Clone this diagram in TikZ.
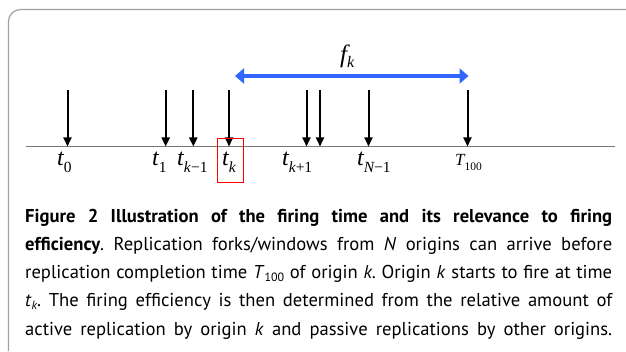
\documentclass[tikz,border=0pt]{standalone}
\usepackage{fontspec}
\setmainfont{PT Sans}
\newfontfamily\tnr{Liberation Serif}
\usetikzlibrary{arrows.meta}
\definecolor{axisgray}{RGB}{120,120,120}
\definecolor{framegray}{RGB}{160,160,160}
\definecolor{fkblue}{RGB}{51,102,255}
\definecolor{boxred}{RGB}{235,40,40}
\newcommand{\tlab}[2]{{\tnr\fontsize{24}{24}\selectfont\itshape #1}\raisebox{-7pt}{\tnr\fontsize{15.5}{15.5}\selectfont #2}}
\newcommand{\capline}[1]{\makebox[587pt][s]{#1}}
\frenchspacing
\tikzset{
  fire/.style={draw=black, line width=2pt, -{Triangle[length=9pt,width=8pt]}},
  axisline/.style={draw=axisgray, line width=1.8pt},
  framel/.style={draw=framegray, line width=1.2pt, rounded corners=12pt},
  tlabel/.style={anchor=base west, inner sep=0pt},
  capnode/.style={anchor=base west, inner sep=0pt, font=\fontsize{18.6}{28}\selectfont},
  span/.style={draw=fkblue, line width=4pt, {Triangle[length=9pt,width=15pt]}-{Triangle[length=9pt,width=15pt]}}
}
\begin{document}
\begin{tikzpicture}[x=1pt,y=-1pt]
\useasboundingbox (0,0) rectangle (626,352);
% frame
\coordinate (fr1) at (626,9.5);
\coordinate (fr2) at (8.5,9.5);
\coordinate (fr3) at (8.5,351);
\draw[framel] (fr1) -- (fr2) -- (fr3);
% axis
\coordinate (axL) at (26,146.5);
\coordinate (axR) at (615,146.5);
\draw[axisline] (axL) -- (axR);
% firing arrows
\foreach \n/\x in {a0/67.5,a1/165.7,a2/193.3,a3/229,a4/306.5,a5/320,a6/368.5,a7/467.5}{
  \coordinate (\n top) at (\x,90);
  \coordinate (\n bot) at (\x,146.5);
  \draw[fire] (\n top) -- (\n bot);
}
% labels
\node[tlabel] (l0) at (57,166) {\tlab{t}{0}};
\node[tlabel] (l1) at (152,166) {\tlab{t}{1}};
\node[tlabel] (l2) at (177,166) {\tlab{t}{{\itshape k}\kern0.5pt−1}};
\node[tlabel] (l3) at (222,166) {\tlab{t}{{\itshape k}}};
\node[tlabel] (l4) at (282,166) {\tlab{t}{{\itshape k}+1}};
\node[tlabel] (l5) at (357,166) {\tlab{t}{{\itshape N}−1}};
\node[tlabel] (l6) at (455,165.5) {{\tnr\fontsize{17}{17}\selectfont\itshape T}\raisebox{-5pt}{\tnr\fontsize{11.5}{11.5}\selectfont 100}};
\node[draw=red, line width=1pt, minimum width=26pt, minimum height=44pt, inner sep=0pt] (kbox) at (230.5,161) {};
% f_k span
\coordinate (fL) at (235,76);
\coordinate (fR) at (468.5,76);
\draw[span] (fL) -- (fR);
\node[tlabel] (fk) at (340,63) {{\tnr\fontsize{25}{25}\selectfont\itshape f}\raisebox{-5pt}{\tnr\fontsize{16}{16}\selectfont\itshape k}};
% caption
\node[capnode] (c1) at (25,223) {\capline{\bfseries Figure 2 Illustration of the firing time and its relevance to firing}};
\node[capnode] (c2) at (25,251) {\capline{\textbf{efficiency}. Replication forks/windows from \textit{N} origins can arrive before}};
\node[capnode] (c3) at (25,279) {\capline{replication completion time \textit{T}\raisebox{-3pt}{\fontsize{12}{12}\selectfont 100} of origin \textit{k}. Origin \textit{k} starts to fire at time}};
\node[capnode] (c4) at (25,307) {\capline{\textit{t}\raisebox{-3pt}{\fontsize{12}{12}\selectfont\itshape k}. The firing efficiency is then determined from the relative amount of}};
\node[capnode] (c5) at (25,335) {\capline{active replication by origin \textit{k} and passive replications by other origins.}};
\end{tikzpicture}
\end{document}
